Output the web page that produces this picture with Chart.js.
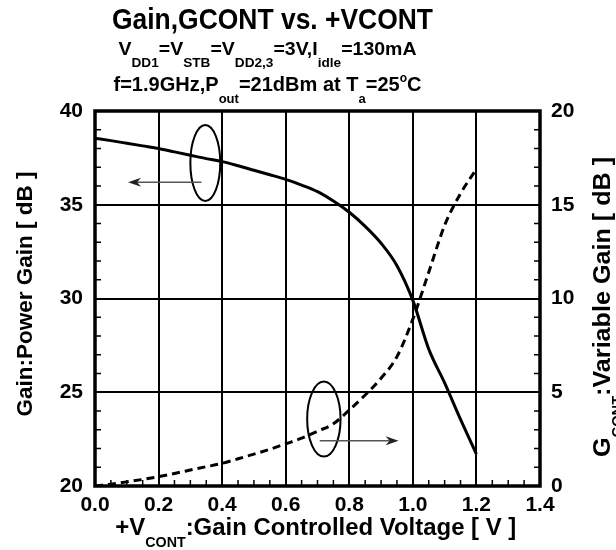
<!DOCTYPE html>
<html>
<head>
<meta charset="utf-8">
<script src="https://cdn.jsdelivr.net/npm/chart.js@4.4.1/dist/chart.umd.min.js"></script>
<style>
  html, body { margin: 0; padding: 0; background: #fff; }
</style>
</head>
<body>
<canvas id="chart" width="616" height="550"></canvas>
<script>
"use strict"

// +VCONT [V]
const vcont = [0, 0.05, 0.1, 0.15, 0.2, 0.25, 0.3, 0.35, 0.4, 0.45, 0.5, 0.55, 0.6,
               0.65, 0.7, 0.75, 0.8, 0.85, 0.9, 0.95, 1.0, 1.05, 1.1, 1.15, 1.2];
// Gain : power gain [dB], left axis
const powerGain = [38.55, 38.42, 38.28, 38.14, 38.0, 37.82, 37.64, 37.46, 37.3, 37.08, 36.84, 36.6, 36.35,
                   36.05, 35.7, 35.2, 34.6, 33.85, 32.95, 31.75, 29.9, 27.3, 25.5, 23.55, 21.7];
// GCONT : variable gain [dB], right axis
const variableGain = [0, 0.1, 0.22, 0.35, 0.5, 0.67, 0.85, 1.03, 1.21, 1.45, 1.7, 1.96, 2.25,
                      2.55, 2.92, 3.32, 4.05, 4.85, 5.75, 6.9, 8.9, 11.4, 13.9, 15.6, 16.9];

const xTicks = [0, 0.2, 0.4, 0.6, 0.8, 1.0, 1.2, 1.4];
const gainTicks = [20, 25, 30, 35, 40];
const gcontTicks = [0, 5, 10, 15, 20];

const FONT = '"Liberation Sans", Arial, Helvetica, sans-serif';

// ellipse + arrow marking which curve goes with which axis (data coords)
const callouts = [
  { axis: 'yL', cx: 0.347, cy: 37.23, rx: 0.047, ry: 2.03, ay: 36.2, from: 0.335, to: 0.104 },
  { axis: 'yR', cx: 0.72, cy: 3.57, rx: 0.0525, ry: 2.0, ay: 2.42, from: 0.707, to: 0.955 }
];

// draw a line of text made of runs [text, size, baselineShift]
function richText(ctx, parts, o) {
  ctx.save();
  let w = 0;
  parts.forEach(p => {
    ctx.font = 'bold ' + p[1] + 'px ' + FONT;
    p.w = ctx.measureText(p[0]).width;
    w += p.w;
  });
  const sx = o.width ? o.width / w : 1;
  ctx.translate(o.x, o.y);
  if (o.rotate) ctx.rotate(o.rotate);
  ctx.scale(sx, 1);
  ctx.fillStyle = '#000';
  ctx.textBaseline = 'alphabetic';
  ctx.textAlign = 'left';
  let x = -w / 2;
  parts.forEach(p => {
    ctx.font = 'bold ' + p[1] + 'px ' + FONT;
    ctx.fillText(p[0], x, p[2] || 0);
    x += p.w;
  });
  ctx.restore();
}

const decor = {
  id: 'decor',
  afterDatasetsDraw(chart) {
    const { ctx, chartArea: a, scales } = chart;
    const x = scales.x, yL = scales.yL, yR = scales.yR;
    ctx.save();

    // minor ticks, inward
    ctx.strokeStyle = '#000';
    ctx.lineWidth = 1.5;
    ctx.beginPath();
    for (let v = 21; v < 40; v++) {
      if (v % 5 === 0) continue;
      const py = yL.getPixelForValue(v);
      ctx.moveTo(a.left, py); ctx.lineTo(a.left + 6, py);
    }
    for (let v = 1; v < 20; v++) {
      if (v % 5 === 0) continue;
      const py = yR.getPixelForValue(v);
      ctx.moveTo(a.right, py); ctx.lineTo(a.right - 6, py);
    }
    for (let i = 1; i < 28; i++) {
      if (i % 4 === 0) continue;
      const px = x.getPixelForValue(i * 0.05);
      ctx.moveTo(px, a.bottom); ctx.lineTo(px, a.bottom - 6);
    }
    ctx.stroke();

    // frame
    ctx.lineWidth = 3.5;
    ctx.strokeRect(a.left, a.top, a.right - a.left, a.bottom - a.top);

    // callouts
    callouts.forEach(c => {
      const ys = scales[c.axis];
      const cx = x.getPixelForValue(c.cx), cy = ys.getPixelForValue(c.cy);
      const rx = Math.abs(x.getPixelForValue(c.cx + c.rx) - cx);
      const ry = Math.abs(ys.getPixelForValue(c.cy + c.ry) - cy);
      ctx.strokeStyle = '#000';
      ctx.lineWidth = 2;
      ctx.beginPath();
      ctx.ellipse(cx, cy, rx, ry, 0, 0, Math.PI * 2);
      ctx.stroke();

      const ay = ys.getPixelForValue(c.ay);
      const x1 = x.getPixelForValue(c.from), x2 = x.getPixelForValue(c.to);
      const d = Math.sign(x2 - x1);
      ctx.strokeStyle = '#555';
      ctx.lineWidth = 1.5;
      ctx.beginPath();
      ctx.moveTo(x1, ay); ctx.lineTo(x2 - d * 9, ay);
      ctx.stroke();
      ctx.fillStyle = '#222';
      ctx.beginPath();
      ctx.moveTo(x2, ay);
      ctx.lineTo(x2 - d * 13, ay - 4.5);
      ctx.lineTo(x2 - d * 9, ay);
      ctx.lineTo(x2 - d * 13, ay + 4.5);
      ctx.closePath();
      ctx.fill();
    });
    ctx.restore();
  },
  afterDraw(chart) {
    const ctx = chart.ctx;
    richText(ctx, [['Gain,GCONT vs. +VCONT', 30]], { x: 272.5, y: 29.3, width: 321 });
    richText(ctx, [['V', 18.6], ['DD1', 13, 11.7], ['=V', 18.6], ['STB', 13, 11.7], ['=V', 18.6],
                   ['DD2,3', 13, 11.7], ['=3V,I', 18.6], ['idle', 13, 11.7], ['=130mA', 18.6]],
             { x: 267.5, y: 55, width: 298 });
    richText(ctx, [['f=1.9GHz,P', 20], ['out', 13, 12.6], ['=21dBm at T', 20], ['a', 13, 12.6],
                   ['=25', 20], ['o', 12, -9], ['C', 20]],
             { x: 267.5, y: 90.7, width: 308 });
    richText(ctx, [['+V', 23.5], ['CONT', 14, 12], [':Gain Controlled Voltage [ V ]', 23.5]],
             { x: 315.8, y: 535, width: 401 });
    richText(ctx, [['Gain:Power Gain [ dB ]', 22.5]],
             { x: 31.7, y: 294, rotate: -Math.PI / 2 });
    richText(ctx, [['G', 24], ['CONT', 14, 12], [':Variable Gain [ dB ]', 24]],
             { x: 610, y: 307, rotate: -Math.PI / 2, width: 300 });
  }
};

const tickFont = { family: FONT, weight: 'bold', size: 21 };

new Chart(document.getElementById('chart'), {
  type: 'line',
  data: {
    datasets: [
      {
        label: 'Gain',
        yAxisID: 'yL',
        data: vcont.map((v, i) => ({ x: v, y: powerGain[i] })),
        borderColor: '#000',
        borderWidth: 3,
        pointRadius: 0,
        cubicInterpolationMode: 'monotone'
      },
      {
        label: 'GCONT',
        yAxisID: 'yR',
        data: vcont.map((v, i) => ({ x: v, y: variableGain[i] })),
        borderColor: '#000',
        borderWidth: 3,
        borderDash: [8, 5],
        pointRadius: 0,
        cubicInterpolationMode: 'monotone'
      }
    ]
  },
  options: {
    responsive: false,
    animation: false,
    devicePixelRatio: 1,
    layout: { padding: { top: 111, left: 0, right: 0, bottom: 0 } },
    plugins: {
      legend: { display: false },
      tooltip: { enabled: false },
      title: { display: false }
    },
    scales: {
      x: {
        type: 'linear',
        min: 0,
        max: 1.4,
        afterBuildTicks: s => { s.ticks = xTicks.map(v => ({ value: v })); },
        afterFit: s => { s.height = 64; },
        grid: { color: '#000', lineWidth: 2, drawTicks: false },
        border: { display: false },
        ticks: { color: '#000', font: tickFont, padding: 7, maxRotation: 0,
                 callback: v => v.toFixed(1) }
      },
      yL: {
        type: 'linear',
        position: 'left',
        min: 20,
        max: 40,
        afterBuildTicks: s => { s.ticks = gainTicks.map(v => ({ value: v })); },
        afterFit: s => { s.width = 95; },
        grid: { color: '#000', lineWidth: 2, drawTicks: false },
        border: { display: false },
        ticks: { color: '#000', font: tickFont, padding: 12 }
      },
      yR: {
        type: 'linear',
        position: 'right',
        min: 0,
        max: 20,
        afterBuildTicks: s => { s.ticks = gcontTicks.map(v => ({ value: v })); },
        afterFit: s => { s.width = 76; },
        grid: { display: false, drawTicks: false },
        border: { display: false },
        ticks: { color: '#000', font: tickFont, padding: 11 }
      }
    }
  },
  plugins: [decor]
});
</script>
</body>
</html>
